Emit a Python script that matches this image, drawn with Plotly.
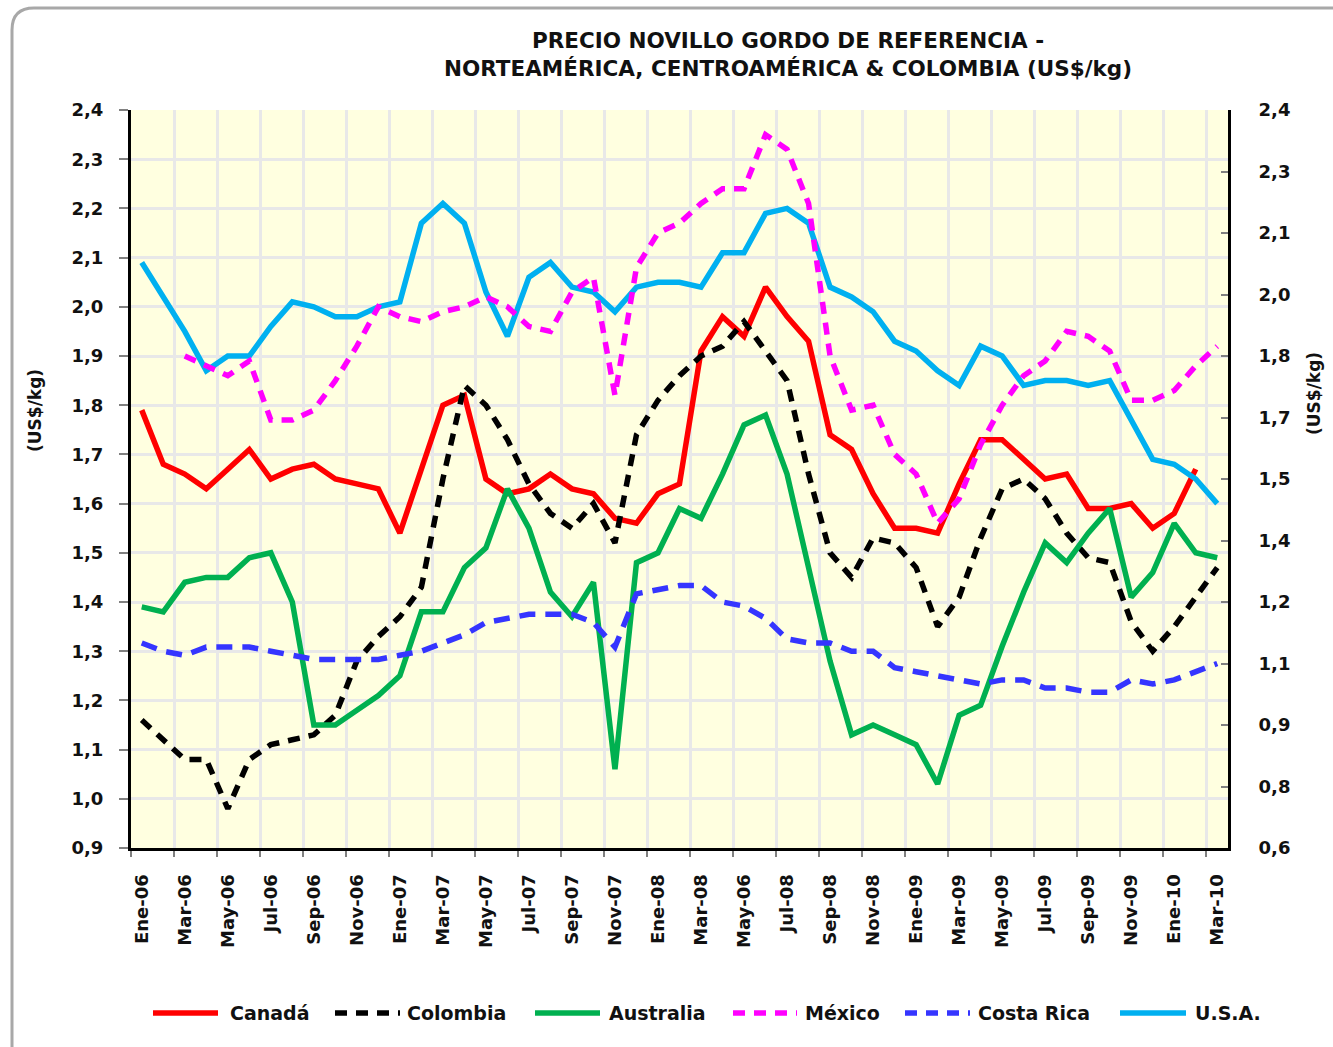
import numpy as np
import plotly.graph_objects as go

# ---- data (US$/kg), monthly Ene-06 .. Mar-10 ----
X_TICK_LABELS = ["Ene-06", "Mar-06", "May-06", "Jul-06", "Sep-06", "Nov-06",
                 "Ene-07", "Mar-07", "May-07", "Jul-07", "Sep-07", "Nov-07",
                 "Ene-08", "Mar-08", "May-06", "Jul-08", "Sep-08", "Nov-08",
                 "Ene-09", "Mar-09", "May-09", "Jul-09", "Sep-09", "Nov-09",
                 "Ene-10", "Mar-10"]

canada = [1.79, 1.68, 1.66, 1.63, 1.67, 1.71, 1.65, 1.67, 1.68, 1.65,
          1.64, 1.63, 1.54, 1.67, 1.80, 1.82, 1.65, 1.62, 1.63, 1.66,
          1.63, 1.62, 1.57, 1.56, 1.62, 1.64, 1.91, 1.98, 1.94, 2.04,
          1.98, 1.93, 1.74, 1.71, 1.62, 1.55, 1.55, 1.54, 1.64, 1.73,
          1.73, 1.69, 1.65, 1.66, 1.59, 1.59, 1.60, 1.55, 1.58, 1.67, None]

colombia = [1.16, 1.12, 1.08, 1.08, 0.98, 1.08, 1.11, 1.12, 1.13, 1.17,
            1.28, 1.33, 1.37, 1.43, 1.65, 1.84, 1.80, 1.73, 1.64, 1.58,
            1.55, 1.60, 1.52, 1.74, 1.81, 1.86, 1.90, 1.92, 1.97, 1.91,
            1.85, 1.66, 1.50, 1.45, 1.53, 1.52, 1.47, 1.35, 1.41, 1.53,
            1.63, 1.65, 1.61, 1.54, 1.49, 1.48, 1.36, 1.30, 1.35, 1.41, 1.47]

australia = [1.39, 1.38, 1.44, 1.45, 1.45, 1.49, 1.50, 1.40, 1.15, 1.15,
             1.18, 1.21, 1.25, 1.38, 1.38, 1.47, 1.51, 1.63, 1.55, 1.42,
             1.37, 1.44, 1.06, 1.48, 1.50, 1.59, 1.57, 1.66, 1.76, 1.78,
             1.66, 1.47, 1.28, 1.13, 1.15, 1.13, 1.11, 1.03, 1.17, 1.19,
             1.31, 1.42, 1.52, 1.48, 1.54, 1.59, 1.41, 1.46, 1.56, 1.50, 1.49]

mexico = [None, None, 1.90, 1.88, 1.86, 1.89, 1.77, 1.77, 1.79, 1.85,
          1.92, 2.00, 1.98, 1.97, 1.99, 2.00, 2.02, 2.00, 1.96, 1.95,
          2.03, 2.06, 1.82, 2.08, 2.15, 2.17, 2.21, 2.24, 2.24, 2.35,
          2.32, 2.21, 1.90, 1.79, 1.80, 1.70, 1.66, 1.56, 1.61, 1.72,
          1.80, 1.86, 1.89, 1.95, 1.94, 1.91, 1.81, 1.81, 1.83, 1.88, 1.92]

# Costa Rica is read on the secondary (right) axis
costa_rica = [1.10, 1.08, 1.07, 1.09, 1.09, 1.09, 1.08, 1.07, 1.06, 1.06,
              1.06, 1.06, 1.07, 1.08, 1.10, 1.12, 1.15, 1.16, 1.17, 1.17,
              1.17, 1.15, 1.09, 1.22, 1.23, 1.24, 1.24, 1.20, 1.19, 1.16,
              1.11, 1.10, 1.10, 1.08, 1.08, 1.04, 1.03, 1.02, 1.01, 1.00,
              1.01, 1.01, 0.99, 0.99, 0.98, 0.98, 1.01, 1.00, 1.01, 1.03, 1.05]

usa = [2.09, 2.02, 1.95, 1.87, 1.90, 1.90, 1.96, 2.01, 2.00, 1.98,
       1.98, 2.00, 2.01, 2.17, 2.21, 2.17, 2.03, 1.94, 2.06, 2.09,
       2.04, 2.03, 1.99, 2.04, 2.05, 2.05, 2.04, 2.11, 2.11, 2.19,
       2.20, 2.17, 2.04, 2.02, 1.99, 1.93, 1.91, 1.87, 1.84, 1.92,
       1.90, 1.84, 1.85, 1.85, 1.84, 1.85, 1.77, 1.69, 1.68, 1.65, 1.60]

RIGHT_TICK_LABELS = ["0,6", "0,8", "0,9", "1,1", "1,2", "1,4", "1,5",
                     "1,7", "1,8", "2,0", "2,1", "2,3", "2,4"]

months = list(range(len(usa)))

# ---- styling ----
FONT = "DejaVu Sans"
W, H = 1333, 1047
L, R, T, B = 131, 1228, 110, 848          # plot area in pixels


def px(x):
    return (x - L) / (R - L)


def py(y):
    return (B - y) / (B - T)


series = [
    ("Canadá", canada, "#FF0000", None, "y"),
    ("Colombia", colombia, "#000000", "12px,9px", "y"),
    ("Australia", australia, "#00B050", None, "y"),
    ("U.S.A.", usa, "#00B0F0", None, "y"),
    ("Costa Rica", costa_rica, "#3535FF", "16px,10px", "y2"),
    ("México", mexico, "#FF00FF", "12px,9px", "y"),
]

fig = go.Figure()
for name, vals, color, dash, yax in series:
    line = dict(color=color, width=5.5)
    if dash:
        line["dash"] = dash
    fig.add_trace(go.Scatter(x=months, y=vals, mode="lines", name=name,
                             line=line, yaxis=yax, showlegend=False,
                             connectgaps=False))

# ---- hand-built legend row under the chart ----
legend_items = [
    ("Canadá", "#FF0000", None, 153, 218, 228),
    ("Colombia", "#000000", "12px,9px", 335, 400, 405),
    ("Australia", "#00B050", None, 535, 600, 607),
    ("México", "#FF00FF", "12px,9px", 733, 797, 803),
    ("Costa Rica", "#3535FF", "12px,9px", 905, 970, 976),
    ("U.S.A.", "#00B0F0", None, 1120, 1186, 1193),
]
LEG_Y = 1013
shapes = []
annotations = []
for name, color, dash, x0, x1, tx in legend_items:
    ln = dict(color=color, width=5.5)
    if dash:
        ln["dash"] = dash
    shapes.append(dict(type="line", xref="paper", yref="paper",
                       x0=px(x0), x1=px(x1), y0=py(LEG_Y), y1=py(LEG_Y),
                       line=ln))
    annotations.append(dict(text=name, xref="paper", yref="paper",
                            x=px(tx), y=py(LEG_Y), xanchor="left",
                            yanchor="middle", showarrow=False,
                            font=dict(family=FONT, size=19, color="#111111",
                                      weight="bold")))

# rounded outer frame of the chart
bx0, by0, rad = 12, 8, 22
frame = (f"M {px(bx0)},{py(1070)} L {px(bx0)},{py(by0 + rad)} "
         f"Q {px(bx0)},{py(by0)} {px(bx0 + rad)},{py(by0)} "
         f"L {px(1360)},{py(by0)}")
shapes.append(dict(type="path", xref="paper", yref="paper", path=frame,
                   line=dict(color="#A8A8A8", width=3), layer="below"))

# title
for txt, yy in [("PRECIO NOVILLO GORDO DE REFERENCIA -", 40),
                ("NORTEAMÉRICA, CENTROAMÉRICA &amp; COLOMBIA (US$/kg)", 68)]:
    annotations.append(dict(text=txt, xref="paper", yref="paper",
                            x=px(788), y=py(yy), xanchor="center",
                            yanchor="middle", showarrow=False,
                            font=dict(family=FONT, size=21.5, color="#111111",
                                      weight="bold")))

# axis titles
for xx, yy in [(35, 411), (1314, 394)]:
    annotations.append(dict(text="(US$/kg)", xref="paper", yref="paper",
                            x=px(xx), y=py(yy), xanchor="center",
                            yanchor="middle", textangle=-90, showarrow=False,
                            font=dict(family=FONT, size=17, color="#111111",
                                      weight="bold")))

tickfont = dict(family=FONT, size=18, color="#111111", weight="bold")

fig.update_layout(
    width=W, height=H,
    margin=dict(l=L, r=W - R, t=T, b=H - B, pad=0),
    paper_bgcolor="white",
    plot_bgcolor="#FFFFE0",
    separators=", ",
    showlegend=False,
    shapes=shapes,
    annotations=annotations,
    xaxis=dict(
        range=[-0.5, len(months) - 0.5],
        tickmode="array",
        tickvals=months[::2],
        ticktext=X_TICK_LABELS,
        tickangle=-90,
        ticks="",
        tickfont=tickfont,
        ticklabelstandoff=16,
        showgrid=False,
        zeroline=False,
        showline=True, linecolor="#000000", linewidth=3,
        minor=dict(tick0=1.5, dtick=2, ticks="outside", ticklen=6,
                   tickwidth=2, tickcolor="#808080", showgrid=True,
                   gridcolor="#E8E8E8", gridwidth=3),
    ),
    yaxis=dict(
        range=[0.9, 2.4],
        tick0=0.9, dtick=0.1,
        tickformat=".1f",
        ticks="outside", ticklen=9, tickwidth=2, tickcolor="#808080",
        tickfont=tickfont,
        ticklabelstandoff=12,
        showgrid=True, gridcolor="#E8E8E8", gridwidth=3,
        zeroline=False,
        showline=True, linecolor="#000000", linewidth=3,
    ),
    yaxis2=dict(
        overlaying="y", side="right",
        range=[0.6, 2.4],
        tickmode="array",
        tickvals=list(np.linspace(0.6, 2.4, len(RIGHT_TICK_LABELS))),
        ticktext=RIGHT_TICK_LABELS,
        ticks="inside", ticklen=7, tickwidth=2, tickcolor="#808080",
        tickfont=tickfont,
        ticklabelstandoff=24,
        showgrid=False, zeroline=False,
        showline=True, linecolor="#000000", linewidth=3,
    ),
)

fig.write_html("out.html")
